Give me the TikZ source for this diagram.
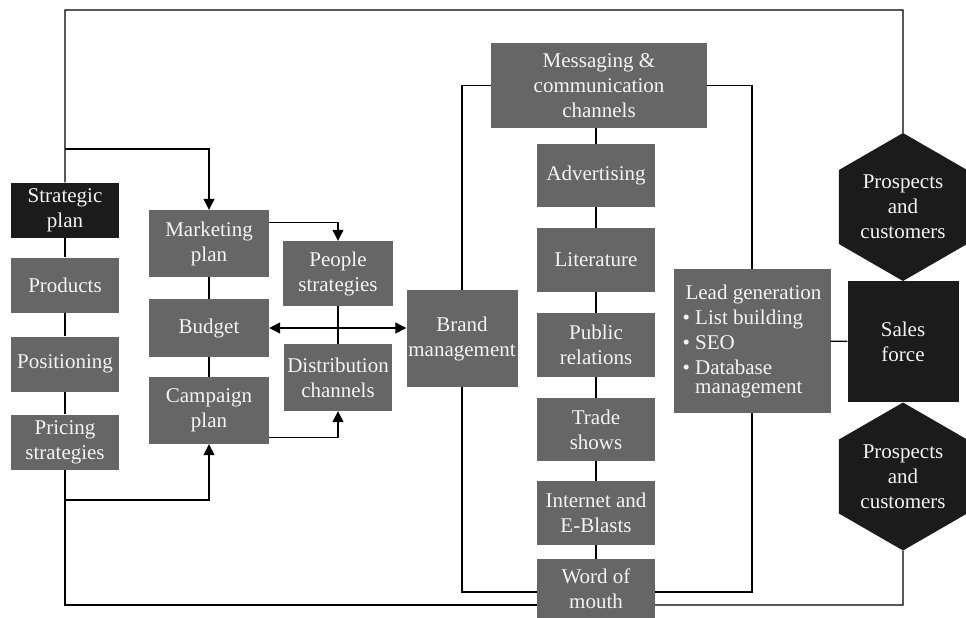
\documentclass[tikz,border=0pt]{standalone}
\usepackage{fontspec}
\setmainfont{Liberation Serif}
\usetikzlibrary{arrows.meta, shapes.geometric}
\definecolor{boxc}{HTML}{666666}
\definecolor{darkc}{HTML}{1B1B1B}
\definecolor{txtc}{HTML}{F4F4F4}
\tikzset{
  box/.style={fill=boxc, text=txtc, align=center, inner sep=0pt,
              font=\fontsize{21}{25}\selectfont},
  dark/.style={box, fill=darkc},
  hexa/.style={dark, regular polygon, regular polygon sides=6,
               shape border rotate=30, minimum size=148pt},
  link/.style={draw=black, line width=1.3pt},
  arr/.style={link, -{Triangle[length=11pt,width=11pt]}},
  both/.style={link, {Triangle[length=11pt,width=11pt]}-{Triangle[length=11pt,width=11pt]}},
}

\begin{document}
\begin{tikzpicture}[x=1pt, y=-1pt]
\useasboundingbox (0,0) rectangle (966,618);

% ---------------- planning ----------------
\node[dark, minimum width=108pt, minimum height=55pt] (strat) at (65,210) {Strategic\\plan};
\node[box, minimum width=108pt, minimum height=55pt] (prod) at (65,285) {Products};
\node[box, minimum width=108pt, minimum height=55pt] (posit) at (65,364) {Positioning};
\node[box, minimum width=108pt, minimum height=55pt] (price) at (65,442) {Pricing\\strategies};

\node[box, minimum width=120pt, minimum height=67pt] (mkt) at (209,243.5) {Marketing\\plan};
\node[box, minimum width=120pt, minimum height=58pt] (budget) at (209,328) {Budget};
\node[box, minimum width=120pt, minimum height=67pt] (camp) at (209,410.5) {Campaign\\plan};

\node[box, minimum width=110pt, minimum height=65pt] (people) at (338,273.5) {People\\strategies};
\node[box, minimum width=108pt, minimum height=67pt] (distr) at (338,377.5) {Distribution\\channels};

\node[box, minimum width=111pt, minimum height=97pt] (brand) at (462,338.5) {Brand\\management};

% ---------------- channels ----------------
\node[box, minimum width=216pt, minimum height=85pt] (msg) at (599,85.5) {Messaging \&\\communication\\channels};
\node[box, minimum width=118pt, minimum height=63pt] (adv) at (596,175.5) {Advertising};
\node[box, minimum width=118pt, minimum height=64pt] (lit) at (596,260) {Literature};
\node[box, minimum width=118pt, minimum height=64pt] (pr) at (596,345) {Public\\relations};
\node[box, minimum width=118pt, minimum height=63pt] (trade) at (596,429.5) {Trade\\shows};
\node[box, minimum width=118pt, minimum height=64pt] (inet) at (596,513) {Internet and\\E-Blasts};
\node[box, minimum width=118pt, minimum height=60pt] (wom) at (596,589) {Word of\\mouth};

\node[box, align=left, minimum width=157pt, minimum height=144pt] (lead) at (752,341)
  {\hspace{3pt}Lead generation\\\textbullet\ List building\\\textbullet\ SEO\\\textbullet\ Database\\[-6pt]\phantom{\textbullet\ }management};

% ---------------- sales ----------------
\node[dark, minimum width=111pt, minimum height=121pt] (sales) at (903,341.5) {Sales\\force};
\node[hexa] (hex1) at (903,207) {Prospects\\and\\customers};
\node[hexa] (hex2) at (903,476.5) {Prospects\\and\\customers};

% frame
\coordinate (ftl) at (65,10);
\coordinate (ftr) at (903,10);
\coordinate (fbl) at (65,605);
\coordinate (fbr) at (903,605);
\draw[link] (strat) -- (ftl) -- (ftr) -- (hex1);
\draw[link] (strat) -- (prod) -- (posit) -- (price);
\draw[link] (price) -- (fbl) -- (fbl -| wom.west);
\draw[link] (fbr -| wom.east) -- (fbr) -- (hex2);

% plans
\coordinate (tap) at (65,149);
\coordinate (bap) at (65,500);
\draw[arr] (tap) -| (mkt.north);
\draw[arr] (bap) -| (camp.south);
\draw[link] (mkt) -- (budget) -- (camp);
\draw[arr] ([yshift=21pt]mkt.east) -| (people.north);
\draw[arr] ([yshift=-27pt]camp.east) -| (distr.south);
\draw[link] (people) -- (distr);
\draw[both] (budget.east) -- (budget.east -| brand.west);

% brand loop
\draw[link] (msg.west) -| (brand.north);
\draw[link] (brand.south) |- ([yshift=-3pt]wom.west);
\draw[link] (msg.east) -| (lead.north);
\draw[link] (lead.south) |- ([yshift=-3pt]wom.east);
\draw[link] (adv.north |- msg.south) -- (adv);
\draw[link] (adv) -- (lit) -- (pr) -- (trade) -- (inet) -- (wom);
\draw[link] (lead) -- (sales);
\end{tikzpicture}
\end{document}
